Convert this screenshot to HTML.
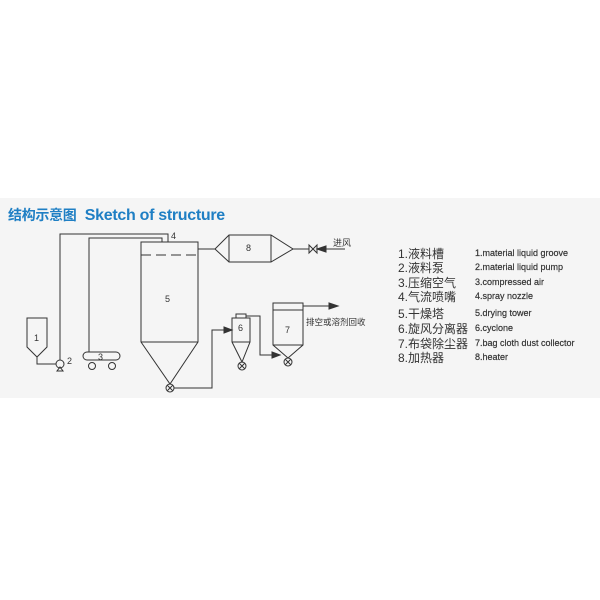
<!DOCTYPE html><html><head><meta charset="utf-8"><style>
body{margin:0;width:600px;height:600px;background:#fff;position:relative;overflow:hidden;font-family:"Liberation Sans","Noto Sans CJK SC",sans-serif}
.band{position:absolute;left:0;top:198px;width:600px;height:200px;background:#f5f5f5}
.t{position:absolute;left:8px;top:205px;font-size:16px;font-weight:bold;color:#1f7fc4;white-space:nowrap;letter-spacing:-0.3px}
.cn{position:absolute;left:398px;font-size:12px;color:#333;white-space:nowrap}
.en{position:absolute;left:475px;font-size:9px;color:#333;white-space:nowrap;font-weight:500;-webkit-text-stroke:0.2px #333}
svg{position:absolute;left:0;top:0}
</style></head><body>
<div class="band"></div>
<div class="t"><span style="font-size:14px">结构示意图</span>&nbsp; Sketch of structure</div>
<svg width="600" height="600" font-family="Liberation Sans, Noto Sans CJK SC, sans-serif" font-size="9" fill="none" stroke="#333" stroke-width="1">
<path d="M27 318H47V347L37 357L27 347Z"/>
<path d="M37 357V364H56"/>
<circle cx="60" cy="364" r="4"/><path d="M57 371H63L60 367Z"/>
<path d="M60 360V234H168V242"/>
<rect x="83" y="352" width="37" height="8" rx="4"/>
<circle cx="92" cy="366" r="3.5"/><circle cx="112" cy="366" r="3.5"/>
<path d="M89 352V238H162V242"/>
<path d="M141 242H198V342L170 384L141 342Z"/>
<path d="M141 255H198" stroke-dasharray="10,5"/>
<path d="M141 342H198"/>
<circle cx="170" cy="388" r="4"/><path d="M167 385L173 391M173 385L167 391"/>
<path d="M198 249H215L229 235H271L293 249L271 262H229L215 249"/>
<path d="M229 235V262M271 235V262"/>
<path d="M293 249H309"/><path d="M309 245V253L317 245V253Z"/>
<path d="M317 249H345"/><path d="M317 249L326 246V252Z" fill="#333"/>
<path d="M174 388H212V330H232"/><path d="M232 330L224 327V333Z" fill="#333"/>
<rect x="236" y="314" width="10" height="4"/>
<path d="M232 318H250V342L242 362L232 342Z"/><path d="M232 342H250"/>
<circle cx="242" cy="366" r="4"/><path d="M239 363L245 369M245 363L239 369"/>
<path d="M246 316H260V355H280"/><path d="M280 355L272 352V358Z" fill="#333"/>
<path d="M273 303H303V345L288 358L273 345Z"/><path d="M273 310H303M273 345H303"/>
<circle cx="288" cy="362" r="4"/><path d="M285 359L291 365M291 359L285 365"/>
<path d="M303 306H338"/><path d="M338 306L329 303V309Z" fill="#333"/>
<g fill="#333" stroke="none">
<text x="34" y="341">1</text><text x="67" y="364">2</text><text x="98" y="360">3</text><text x="171" y="239">4</text>
<text x="165" y="302">5</text><text x="238" y="331">6</text><text x="285" y="333">7</text><text x="246" y="251">8</text>
<text x="333" y="246" font-size="9">进风</text>
<text x="306" y="325" font-size="8.5">排空或溶剂回收</text>
</g>
</svg>
<div class="cn" style="top:245px">1.液料槽</div><div class="en" style="top:248px">1.material liquid groove</div>
<div class="cn" style="top:259px">2.液料泵</div><div class="en" style="top:262px">2.material liquid pump</div>
<div class="cn" style="top:274px">3.压缩空气</div><div class="en" style="top:277px">3.compressed air</div>
<div class="cn" style="top:288px">4.气流喷嘴</div><div class="en" style="top:291px">4.spray nozzle</div>
<div class="cn" style="top:305px">5.干燥塔</div><div class="en" style="top:308px">5.drying tower</div>
<div class="cn" style="top:320px">6.旋风分离器</div><div class="en" style="top:323px">6.cyclone</div>
<div class="cn" style="top:335px">7.布袋除尘器</div><div class="en" style="top:338px">7.bag cloth dust collector</div>
<div class="cn" style="top:349px">8.加热器</div><div class="en" style="top:352px">8.heater</div>
</body></html>
